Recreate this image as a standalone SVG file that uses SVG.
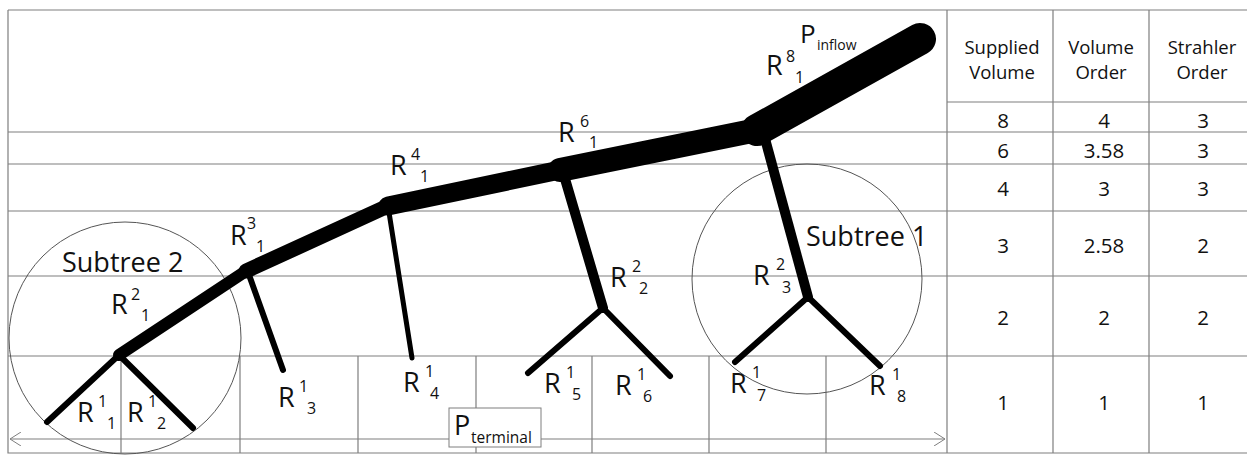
<svg xmlns="http://www.w3.org/2000/svg" width="1247" height="460" viewBox="0 0 1247 460">
<defs>
<style>
.grid{stroke:#7f7f7f;stroke-width:1.2;fill:none}
.circ{stroke:#555;stroke-width:1;fill:none}
.br{stroke:#000;stroke-linecap:round;fill:none}
.t{font-family:"Open Sans","Liberation Sans",sans-serif;fill:#111}
.R{font-size:27px}
.s{font-size:16px}
.h{font-size:18.5px;text-anchor:middle}
.d{font-size:20.5px;text-anchor:middle}
</style>
<marker id="ah" viewBox="0 0 12 14" refX="11" refY="7" markerWidth="12" markerHeight="14" markerUnits="userSpaceOnUse" orient="auto-start-reverse">
<path d="M0,0 L11,7 L0,14" fill="none" stroke="#7f7f7f" stroke-width="1"/>
</marker>
</defs>
<rect width="1247" height="460" fill="#fff"/>
<g id="grid">
<path class="grid" d="M8,10 H1247 M8,10 V453 H1247 M8,132 H1247 M8,164 H1247 M8,211 H1247 M8,276 H1247 M8,356 H1247 M947,102 H1247 M947,10 V453 M1053,10 V453 M1149,10 V453 M121,356 V453 M240,356 V453 M358,356 V453 M476,356 V453 M592,356 V453 M709,356 V453 M826,356 V453"/>
<line class="grid" x1="10" y1="439" x2="945" y2="439" stroke-width="1" marker-start="url(#ah)" marker-end="url(#ah)"/>
</g>
<g id="subtree2"><circle class="circ" cx="125" cy="338" r="116"/><text class="t" x="62" y="272" font-size="27">Subtree 2</text></g>
<g id="subtree1"><circle class="circ" cx="807" cy="279" r="115"/><text class="t" x="806" y="246" font-size="27">Subtree 1</text></g>
<g id="connectors">
<line class="br" x1="757" y1="130" x2="920" y2="39" stroke-width="32"/>
<line class="br" x1="560" y1="170" x2="757" y2="130" stroke-width="24"/>
<line class="br" x1="388" y1="206" x2="560" y2="170" stroke-width="19"/>
<line class="br" x1="246" y1="271" x2="388" y2="206" stroke-width="15"/>
<line class="br" x1="119" y1="355" x2="246" y2="271" stroke-width="12"/>
<line class="br" x1="119" y1="355" x2="47" y2="422" stroke-width="6"/>
<line class="br" x1="119" y1="355" x2="193" y2="428" stroke-width="6"/>
<line class="br" x1="248" y1="272" x2="283" y2="370" stroke-width="6"/>
<line class="br" x1="388" y1="206" x2="412" y2="358" stroke-width="5"/>
<line class="br" x1="563" y1="172" x2="603" y2="308" stroke-width="10"/>
<line class="br" x1="603" y1="308" x2="528" y2="373" stroke-width="6"/>
<line class="br" x1="603" y1="308" x2="670" y2="376" stroke-width="6"/>
<line class="br" x1="764" y1="135" x2="808" y2="297" stroke-width="10"/>
<line class="br" x1="808" y1="297" x2="735" y2="362" stroke-width="6"/>
<line class="br" x1="808" y1="297" x2="880" y2="366" stroke-width="6"/>
</g>
<g id="pinflow"><text class="t" x="800" y="43" font-size="26">P</text><text class="t" x="817" y="50" font-size="14">inflow</text></g>
<g id="R8_1"><text class="t R" x="766" y="75">R</text><text class="t s" x="786" y="62">8</text><text class="t s" x="795" y="83">1</text></g>
<g id="R6_1"><text class="t R" x="558" y="142">R</text><text class="t s" x="580" y="127">6</text><text class="t s" x="589" y="148">1</text></g>
<g id="R4_1"><text class="t R" x="390" y="175">R</text><text class="t s" x="411" y="160">4</text><text class="t s" x="420" y="182">1</text></g>
<g id="R3_1"><text class="t R" x="230" y="245">R</text><text class="t s" x="247" y="229">3</text><text class="t s" x="256" y="252">1</text></g>
<g id="R2_1"><text class="t R" x="111" y="314">R</text><text class="t s" x="131" y="300">2</text><text class="t s" x="141" y="321">1</text></g>
<g id="R1_1"><text class="t R" x="77" y="422">R</text><text class="t s" x="98" y="407">1</text><text class="t s" x="107" y="429">1</text></g>
<g id="R1_2"><text class="t R" x="127" y="422">R</text><text class="t s" x="148" y="407">1</text><text class="t s" x="157" y="429">2</text></g>
<g id="R1_3"><text class="t R" x="278" y="407">R</text><text class="t s" x="299" y="392">1</text><text class="t s" x="307" y="414">3</text></g>
<g id="R1_4"><text class="t R" x="403" y="392">R</text><text class="t s" x="425" y="377">1</text><text class="t s" x="430" y="399">4</text></g>
<g id="R2_2"><text class="t R" x="610" y="287">R</text><text class="t s" x="632" y="272">2</text><text class="t s" x="639" y="294">2</text></g>
<g id="R2_3"><text class="t R" x="753" y="285">R</text><text class="t s" x="776" y="270">2</text><text class="t s" x="782" y="293">3</text></g>
<g id="R1_5"><text class="t R" x="544" y="393">R</text><text class="t s" x="566" y="378">1</text><text class="t s" x="572" y="400">5</text></g>
<g id="R1_6"><text class="t R" x="615" y="395">R</text><text class="t s" x="637" y="380">1</text><text class="t s" x="643" y="402">6</text></g>
<g id="R1_7"><text class="t R" x="730" y="393">R</text><text class="t s" x="752" y="378">1</text><text class="t s" x="757" y="401">7</text></g>
<g id="R1_8"><text class="t R" x="869" y="395">R</text><text class="t s" x="892" y="380">1</text><text class="t s" x="897" y="402">8</text></g>
<g id="pterminal"><rect x="449" y="408" width="92" height="39" fill="#fff" stroke="#7f7f7f" stroke-width="1"/><text class="t" x="454" y="435" font-size="27">P</text><text class="t" x="471" y="443" font-size="15.5">terminal</text></g>
<g id="table">
<text class="t h" x="1002" y="54">Supplied</text><text class="t h" x="1002" y="79">Volume</text>
<text class="t h" x="1101" y="54">Volume</text><text class="t h" x="1101" y="79">Order</text>
<text class="t h" x="1202" y="54">Strahler</text><text class="t h" x="1202" y="79">Order</text>
<text class="t d" x="1003" y="128">8</text><text class="t d" x="1104" y="128">4</text><text class="t d" x="1203" y="128">3</text>
<text class="t d" x="1003" y="158">6</text><text class="t d" x="1104" y="158">3.58</text><text class="t d" x="1203" y="158">3</text>
<text class="t d" x="1003" y="196">4</text><text class="t d" x="1104" y="196">3</text><text class="t d" x="1203" y="196">3</text>
<text class="t d" x="1003" y="253">3</text><text class="t d" x="1104" y="253">2.58</text><text class="t d" x="1203" y="253">2</text>
<text class="t d" x="1003" y="325">2</text><text class="t d" x="1104" y="325">2</text><text class="t d" x="1203" y="325">2</text>
<text class="t d" x="1003" y="410">1</text><text class="t d" x="1104" y="410">1</text><text class="t d" x="1203" y="410">1</text>
</g>
</svg>
